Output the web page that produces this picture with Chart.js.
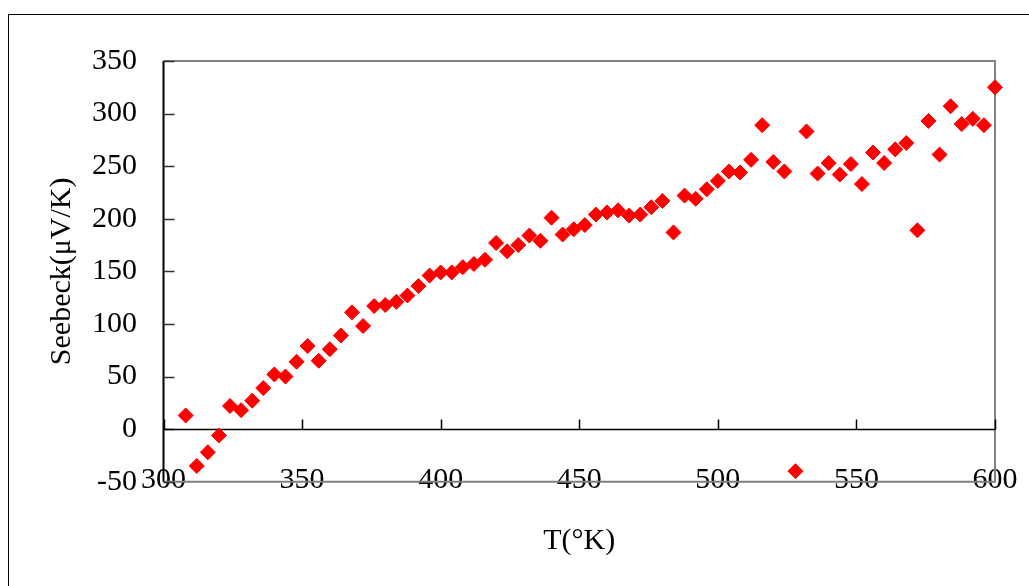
<!DOCTYPE html>
<html>
<head>
<meta charset="utf-8">
<title>Seebeck</title>
<script src="https://cdn.jsdelivr.net/npm/chart.js"></script>
<style>
  html, body { margin: 0; padding: 0; background: #fff; }
  #wrap { width: 1029px; height: 586px; }
</style>
</head>
<body>
<div id="wrap"><canvas id="myChart" width="1029" height="586"></canvas></div>
<script>
// temperature (K) of each measurement
const temperatures = [
  308, 312, 316, 320, 324, 328, 332, 336, 340, 344,
  348, 352, 356, 360, 364, 368, 372, 376, 380, 384,
  388, 392, 396, 400, 404, 408, 412, 416, 420, 424,
  428, 432, 436, 440, 444, 448, 452, 456, 460, 464,
  468, 472, 476, 480, 484, 488, 492, 496, 500, 504,
  508, 512, 516, 520, 524, 528, 532, 536, 540, 544,
  548, 552, 556, 560, 564, 568, 572, 576, 580, 584,
  588, 592, 596, 600
];

// Seebeck coefficient (uV/K)
const seebeck = [
  13, -35, -22, -6, 22, 18, 27, 39, 52, 50,
  64, 79, 65, 76, 89, 111, 98, 117, 118, 121,
  127, 136, 146, 149, 149, 154, 157, 161, 177, 169,
  175, 184, 179, 201, 185, 190, 194, 204, 206, 208,
  203, 204, 211, 217, 187, 222, 219, 228, 236, 245,
  244, 256, 289, 254, 245, -40, 283, 243, 253, 242,
  252, 233, 263, 253, 266, 272, 189, 293, 261, 307,
  290, 295, 289, 325
];

const xTicks = [300, 350, 400, 450, 500, 550, 600];
const yTicks = [-50, 0, 50, 100, 150, 200, 250, 300, 350];

const serif = "'Liberation Serif', 'Times New Roman', serif";

// Axis lines, inside tick marks and the outer box (Excel style)
const framePlugin = {
  id: "frame",
  beforeDraw(chart) {
    const ctx = chart.ctx;
    ctx.save();
    ctx.fillStyle = "#fff";
    ctx.fillRect(0, 0, chart.width, chart.height);
    ctx.strokeStyle = "#000";
    ctx.lineWidth = 1;
    ctx.strokeRect(8.5, 14.5, 1100, 1000);
    ctx.restore();
  },
  beforeDatasetsDraw(chart) {
    const { ctx, chartArea: a, scales } = chart;
    const x = scales.x, y = scales.y;
    ctx.save();

    // plot area border (gray) top, right, bottom
    ctx.strokeStyle = "#808080";
    ctx.lineWidth = 2;
    ctx.beginPath();
    ctx.moveTo(a.left, a.top);
    ctx.lineTo(a.right, a.top);
    ctx.lineTo(a.right, a.bottom);
    ctx.lineTo(a.left, a.bottom);
    ctx.stroke();

    // y axis line
    ctx.strokeStyle = "#000";
    ctx.beginPath();
    ctx.moveTo(a.left, a.top);
    ctx.lineTo(a.left, a.bottom);
    ctx.stroke();

    // y ticks pointing inward
    ctx.strokeStyle = "#333";
    ctx.lineWidth = 1.5;
    ctx.beginPath();
    yTicks.forEach((v) => {
      const py = Math.round(y.getPixelForValue(v)) + 0.5;
      ctx.moveTo(a.left, py);
      ctx.lineTo(a.left + 11, py);
    });
    ctx.stroke();

    // x axis at zero with ticks pointing up
    const y0 = Math.round(y.getPixelForValue(0)) + 0.5;
    ctx.strokeStyle = "#000";
    ctx.lineWidth = 1.5;
    ctx.beginPath();
    ctx.moveTo(a.left, y0);
    ctx.lineTo(a.right, y0);
    xTicks.forEach((v) => {
      const px = Math.round(x.getPixelForValue(v)) + 0.5;
      ctx.moveTo(px, y0);
      ctx.lineTo(px, y0 - 10);
    });
    ctx.stroke();

    ctx.restore();
  },
};

const points = temperatures.map((t, i) => ({ x: t, y: seebeck[i] }));

new Chart(document.getElementById("myChart"), {
  type: "scatter",
  data: {
    datasets: [
      {
        data: points,
        pointStyle: "rectRot",
        pointRadius: 7.5,
        pointHoverRadius: 7.5,
        backgroundColor: "#ff0000",
        borderColor: "#ff0000",
        borderWidth: 1,
        clip: false,
      },
    ],
  },
  options: {
    responsive: false,
    animation: false,
    events: [],
    layout: {
      padding: { top: 61, right: 34, left: 0, bottom: 0 },
    },
    plugins: {
      legend: { display: false },
      tooltip: { enabled: false },
    },
    scales: {
      x: {
        type: "linear",
        min: 300,
        max: 600,
        afterBuildTicks: (s) => {
          s.ticks = xTicks.map((v) => ({ value: v }));
        },
        afterFit: (s) => {
          s.height = 104.3;
        },
        grid: { display: false, drawTicks: false },
        border: { display: false },
        ticks: {
          mirror: true,
          padding: -16,
          color: "#000",
          font: { family: serif, size: 30 },
        },
        title: {
          display: true,
          text: "T(°K)",
          color: "#000",
          font: { family: serif, size: 30 },
          padding: { top: 0, bottom: 27 },
        },
      },
      y: {
        type: "linear",
        min: -50,
        max: 350,
        afterBuildTicks: (s) => {
          s.ticks = yTicks.map((v) => ({ value: v }));
        },
        afterFit: (s) => {
          s.width = 163.5;
        },
        grid: { display: false, drawTicks: false },
        border: { display: false },
        ticks: {
          padding: 26.5,
          color: "#000",
          font: { family: serif, size: 30 },
        },
        title: {
          display: true,
          text: "Seebeck(μV/K)",
          color: "#000",
          font: { family: serif, size: 30 },
          padding: { top: 44, bottom: 0 },
        },
      },
    },
  },
  plugins: [framePlugin],
});
</script>
</body>
</html>
